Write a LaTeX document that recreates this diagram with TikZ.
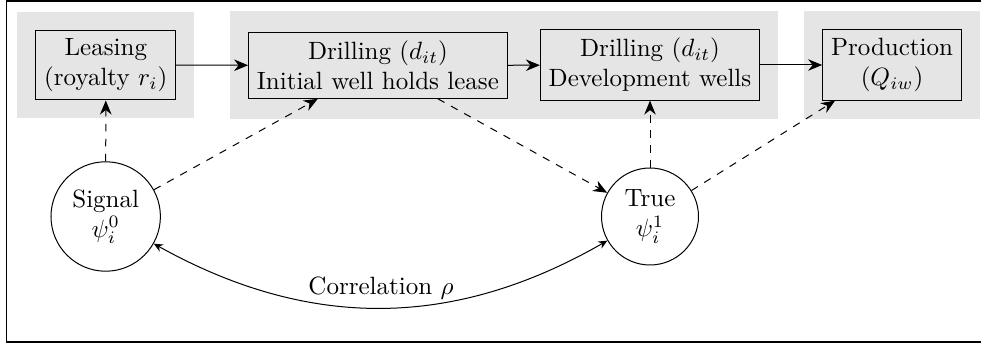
\documentclass[tikz,border=0pt]{standalone}
\usetikzlibrary{arrows.meta,fit,backgrounds}
\begin{document}
\begin{tikzpicture}[x=0.4pt,y=-0.4pt,
  stagebox/.style={draw,rectangle,align=center,inner sep=3.33pt},
  statecirc/.style={draw,circle,align=center,inner sep=3.33pt},
  bgpanel/.style={fill=gray!20,draw=none,inner sep=7.2pt},
  flow/.style={-{Stealth[length=5.6pt,width=4.6pt,inset=1.8pt]}},
  info/.style={-{Stealth[length=5.6pt,width=4.6pt,inset=1.8pt]},dashed},
  corr/.style={{Stealth[length=3.6pt,width=3.2pt]}-{Stealth[length=3.6pt,width=3.2pt]}}]
\useasboundingbox (0,0) rectangle (981,346);
\draw[line width=0.7pt] (981,0.8) -- (6.5,0.8) -- (6.5,342) -- (981,342);
\node[stagebox] (lease) at (105.8,65) {Leasing\\(royalty $r_i$)};
\node[stagebox] (drill1) at (377.9,65.5) {Drilling ($d_{it}$)\\Initial well holds lease};
\node[stagebox] (drill2) at (650,65) {Drilling ($d_{it}$)\\Development wells};
\node[stagebox] (prod) at (892,65) {Production\\($Q_{iw}$)};
\node[statecirc] (signal) at (105.7,216.5) {Signal\\$\psi_i^0$};
\node[statecirc] (true) at (650,216.5) {True\\$\psi_i^1$};
\begin{scope}[on background layer]
  \node[bgpanel,fit=(lease)] (bgA) {};
  \node[bgpanel,fit=(drill1)(drill2)] (bgB) {};
  \node[bgpanel,fit=(prod)] (bgC) {};
\end{scope}
\draw[flow] (lease) -- (drill1);
\draw[flow] (drill1) -- (drill2);
\draw[flow] (drill2) -- (prod);
\draw[info] (signal) -- (lease);
\draw[info] (signal) -- (drill1);
\draw[info] (drill1) -- (true);
\draw[info] (true) -- (drill2);
\draw[info] (true) -- (prod);
\draw[corr] (signal) to[bend right=29.5] node[above] {Correlation $\rho$} (true);
\end{tikzpicture}
\end{document}
